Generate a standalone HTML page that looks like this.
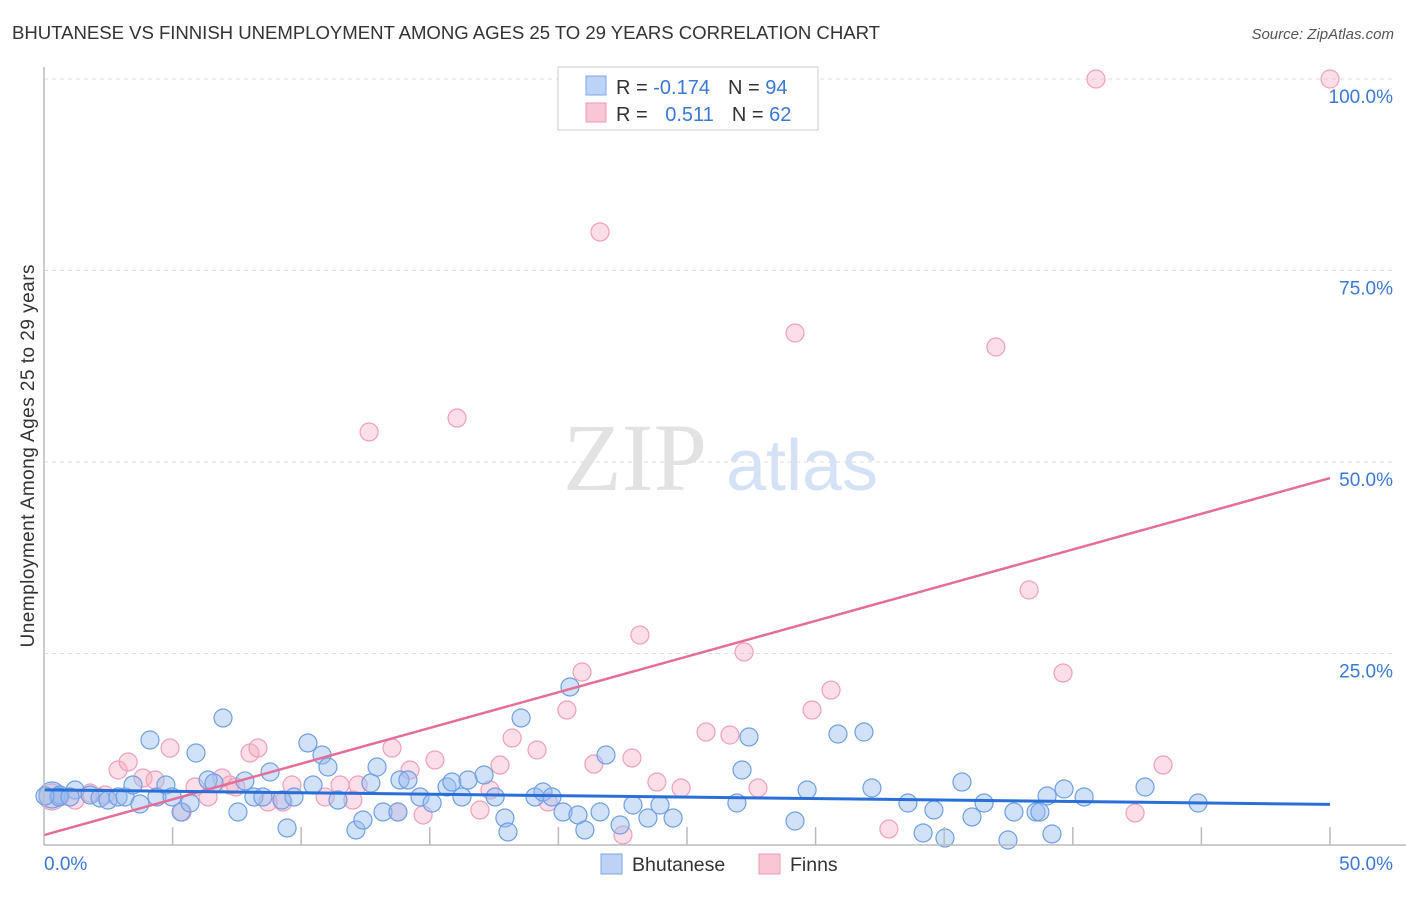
<!DOCTYPE html>
<html><head><meta charset="utf-8"><style>
body{margin:0;background:#fff;font-family:"Liberation Sans",sans-serif;}
svg text{font-family:"Liberation Sans",sans-serif;}
</style></head><body>
<svg id="c" width="1406" height="892" xmlns="http://www.w3.org/2000/svg">
<text x="12" y="39" font-size="18.6" fill="#333" textLength="868">BHUTANESE VS FINNISH UNEMPLOYMENT AMONG AGES 25 TO 29 YEARS CORRELATION CHART</text>
<text x="1394" y="39" font-size="15" fill="#555" font-style="italic" text-anchor="end">Source: ZipAtlas.com</text>
<text x="34" y="456" font-size="19" fill="#333" text-anchor="middle" textLength="383" transform="rotate(-90 34 456)">Unemployment Among Ages 25 to 29 years</text>
<g id="grid"></g>
<g><text x="635" y="490" font-size="96" fill="#e2e2e2" style="font-family:'Liberation Serif',serif" text-anchor="middle">ZIP</text><text x="802" y="490" font-size="72" fill="#d5e2f5" text-anchor="middle">atlas</text></g>
<g id="pts"></g>
<g id="trend"></g>
<g id="axes"></g>
<g>
<rect x="558" y="67" width="260" height="63" fill="#fff" stroke="#ccc"/>
<rect x="586" y="76" width="20" height="19" fill="#bcd3f5" stroke="#7da7e8"/>
<rect x="586" y="103" width="20" height="19" fill="#f9c6d5" stroke="#ef9ab2"/>
<text x="616" y="94" font-size="20" fill="#333">R = <tspan fill="#3a78d8">-0.174</tspan><tspan dx="18">N = </tspan><tspan fill="#3a78d8">94</tspan></text>
<text x="616" y="121" font-size="20" fill="#333">R = <tspan fill="#3a78d8" dx="12">0.511</tspan><tspan dx="18">N = </tspan><tspan fill="#3a78d8">62</tspan></text>
</g>
<g>
<rect x="601" y="854" width="21" height="20" fill="#bcd3f5" stroke="#7da7e8"/>
<text x="632" y="871" font-size="19.5" fill="#333">Bhutanese</text>
<rect x="759" y="854" width="21" height="20" fill="#f9c6d5" stroke="#ef9ab2"/>
<text x="790" y="871" font-size="19.5" fill="#333">Finns</text>
</g>
</svg>
<script>
const yTicks=[25,50,75,100];
const yTickLabels=["25.0%","50.0%","75.0%","100.0%"];
const xTicks=[0,5,10,15,20,25,30,35,40,45,50];
const blueX=[0.31,0.62,1.21,1.79,2.18,2.49,2.88,3.15,3.46,3.73,4.12,4.39,4.74,4.98,5.33,5.68,5.91,6.38,6.61,6.96,7.54,7.81,8.16,8.51,8.79,9.25,9.45,9.72,10.26,10.46,10.81,11.04,11.43,12.13,12.40,12.71,12.95,13.18,13.84,14.15,13.76,14.62,15.09,15.67,15.86,16.25,16.49,17.11,17.54,17.92,18.04,18.55,19.09,19.40,19.75,20.18,20.45,20.76,21.03,21.62,21.85,22.40,22.90,23.48,23.95,24.46,26.94,27.14,27.41,29.20,29.67,30.87,31.88,32.19,33.59,34.18,34.60,35.03,35.69,36.08,36.55,37.48,37.71,38.57,39.00,39.19,39.66,40.44,42.81,44.87,0.58,1.01,0.04,38.72];
const blueY=[6.53,6.53,7.18,6.53,6.14,5.87,6.27,6.27,7.83,5.35,13.71,6.27,7.83,6.27,4.31,5.48,12.01,8.49,8.09,16.58,4.31,8.36,6.27,6.27,9.53,5.87,2.22,6.27,13.32,7.83,11.75,10.18,5.87,1.96,3.26,8.09,10.18,4.31,8.49,8.49,4.31,6.27,5.48,7.57,8.22,6.27,8.49,9.14,6.27,3.52,1.70,16.58,6.27,6.92,6.27,4.31,20.63,3.92,1.96,4.31,11.75,2.61,5.22,3.52,5.22,3.52,5.48,9.79,14.10,3.13,7.18,14.49,14.75,7.44,5.48,1.57,4.57,0.91,8.22,3.66,5.48,0.65,4.31,4.31,6.40,1.44,7.31,6.27,7.57,5.48,6.27,6.27,6.40,4.31];
const pinkX=[0.31,0.62,1.21,1.79,2.37,2.88,3.27,3.85,4.32,4.90,5.37,5.87,6.38,6.92,7.23,7.46,8.01,8.32,8.71,9.29,9.64,10.93,11.51,12.01,12.21,12.64,13.53,13.76,14.23,14.74,15.20,16.06,16.95,17.34,17.73,18.20,19.17,19.60,20.33,20.92,21.38,21.62,22.51,22.86,23.17,23.83,24.77,25.74,26.67,27.22,27.76,29.20,29.86,30.60,32.85,37.01,38.30,39.62,40.90,42.42,43.51,50.0];
const pinkY=[6.27,6.27,5.87,6.79,6.53,9.79,10.84,8.75,8.49,12.66,4.31,7.57,6.27,8.75,7.83,7.57,12.01,12.66,5.61,5.61,7.83,6.27,7.83,5.87,7.83,53.92,12.66,4.31,9.79,3.92,11.10,55.74,4.57,7.18,10.44,13.97,12.40,5.61,17.62,22.58,10.57,80.03,1.31,11.36,27.42,8.22,7.44,14.75,14.36,25.20,7.44,66.84,17.62,20.23,2.09,65.01,33.29,22.45,100,4.18,10.44,100];
const blueTrend=[7.2,5.3];
const pinkTrend=[1.3,47.9];
const trendX=[0,50];

const NS="http://www.w3.org/2000/svg";
const X0=44,X1=1330,Y0=845,Y100=79;
const sx=v=>X0+(X1-X0)*v/50;
const sy=v=>Y0-(Y0-Y100)*v/100;
function mk(tag,attrs,parent){const e=document.createElementNS(NS,tag);for(const k in attrs)e.setAttribute(k,attrs[k]);parent.appendChild(e);return e;}
const grid=document.getElementById('grid'),axes=document.getElementById('axes'),pts=document.getElementById('pts'),trend=document.getElementById('trend');
yTicks.forEach((t,i)=>{
 const l=mk('line',{x1:X0,x2:X1+62,y1:sy(t),y2:sy(t),stroke:'#ddd','stroke-dasharray':'4 4'},grid);
 
 
 const tx=mk('text',{x:1393,y:sy(t)+24,'font-size':19,fill:'#3a78d8','text-anchor':'end'},axes);
 tx.textContent=yTickLabels[i];
 
 
});
const ax=mk('line',{x1:X0,x2:1406,y1:Y0,y2:Y0,stroke:'#bbb','stroke-width':1.5},axes);


const ay=mk('line',{x1:X0,x2:X0,y1:67,y2:Y0,stroke:'#bbb','stroke-width':1.5},axes);


xTicks.forEach(t=>{if(t===0)return;
 const l=mk('line',{x1:sx(t),x2:sx(t),y1:Y0-18,y2:Y0,stroke:'#bbb','stroke-width':1.5},axes);
 
 
});
const xl0=mk('text',{x:44,y:870,'font-size':19,fill:'#3a78d8'},axes);xl0.textContent='0.0%';


const xl1=mk('text',{x:1393,y:870,'font-size':19,fill:'#3a78d8','text-anchor':'end'},axes);xl1.textContent='50.0%';


function dots(xs,ys,fill,stroke,name){xs.forEach((x,i)=>{
 const c=mk('circle',{cx:sx(x),cy:sy(ys[i]),r:(i===0?13:9),fill:fill,stroke:stroke,'stroke-width':1.2},pts);
 
 
});}
dots(pinkX,pinkY,'rgba(246,172,194,0.4)','#efa0b8','finns-point');
dots(blueX,blueY,'rgba(150,188,240,0.45)','#6f9fe6','bhutanese-point');
const lp=mk('line',{x1:sx(trendX[0]),y1:sy(pinkTrend[0]),x2:sx(trendX[1]),y2:sy(pinkTrend[1]),stroke:'#e56d98','stroke-width':2.5},trend);


const lb=mk('line',{x1:sx(trendX[0]),y1:sy(blueTrend[0]),x2:sx(trendX[1]),y2:sy(blueTrend[1]),stroke:'#2a6fd8','stroke-width':3},trend);


</script>
</body></html>
